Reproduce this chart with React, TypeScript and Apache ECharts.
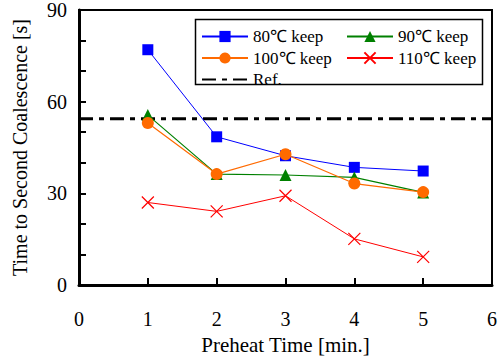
import React, { useEffect, useRef } from "react";
import * as echarts from "echarts";

const preheat = [1, 2, 3, 4, 5];
const keep80 = [77, 48.5, 42.3, 38.5, 37.3];
const keep90 = [55.6, 36.3, 36.0, 35.2, 30.3];
const keep100 = [53.0, 36.3, 42.8, 33.2, 30.4];
const keep110 = [27.0, 24.1, 29.2, 15.1, 9.2];
const refValue = 54.4;
const xRange = [0, 6];
const seriesNames = ["80℃ keep", "90℃ keep", "100℃ keep", "110℃ keep", "Ref."];

const FONT = "Liberation Serif";

export default function App() {
  const ref = useRef<HTMLDivElement>(null);
  useEffect(() => {
    if (!ref.current) return;
    const chart = echarts.init(ref.current, null, { renderer: "svg" });
    const pts = (v: number[]) => preheat.map((x, i) => [x, v[i]]);
    const crossPath = "path://M0,0L10,10M10,0L0,10";
    const legendText = { fontFamily: FONT, fontSize: 17, color: "#000" };
    const option: any = {
      animation: false,
      backgroundColor: "#fff",
      grid: {
        left: 79,
        right: 8,
        top: 8,
        bottom: 74,
        show: true,
        borderColor: "#000",
        borderWidth: 2,
        backgroundColor: "transparent",
      },
      xAxis: {
        type: "value",
        min: xRange[0],
        max: xRange[1],
        interval: 1,
        name: "Preheat Time [min.]",
        nameLocation: "middle",
        nameGap: 49,
        nameTextStyle: { fontFamily: FONT, fontSize: 21, color: "#000" },
        axisLine: { show: true, lineStyle: { color: "#000", width: 3 } },
        axisTick: { show: true, inside: true, length: 7, lineStyle: { color: "#000", width: 2 } },
        axisLabel: { fontFamily: FONT, fontSize: 20, color: "#000", margin: 24 },
        splitLine: { show: false },
      },
      yAxis: {
        type: "value",
        min: 0,
        max: 90,
        interval: 10,
        name: "Time to Second Coalescence [s]",
        nameLocation: "middle",
        nameGap: 49,
        nameTextStyle: { fontFamily: FONT, fontSize: 20, color: "#000" },
        axisLine: { show: true, lineStyle: { color: "#000", width: 3 } },
        axisTick: { show: true, inside: true, length: 7, lineStyle: { color: "#000", width: 2 } },
        axisLabel: {
          fontFamily: FONT,
          fontSize: 20,
          color: "#000",
          margin: 12,
          formatter: (v: number) => (v % 30 === 0 ? String(v) : ""),
        },
        splitLine: { show: false },
      },
      legend: [
        {
          data: [seriesNames[0], seriesNames[2], seriesNames[4]],
          orient: "vertical",
          left: 201,
          top: 28,
          itemWidth: 46,
          itemHeight: 14,
          itemGap: 4.5,
          padding: 0,
          textStyle: legendText,
        },
        {
          data: [seriesNames[1], seriesNames[3]],
          orient: "vertical",
          left: 346,
          top: 28,
          itemWidth: 46,
          itemHeight: 14,
          itemGap: 4.5,
          padding: 0,
          textStyle: legendText,
        },
      ],
      graphic: [
        {
          type: "rect",
          left: 193,
          top: 17,
          shape: { width: 287, height: 65 },
          style: { fill: "none", stroke: "#000", lineWidth: 1.5 },
          z: 1,
        },
      ],
      series: [
        {
          name: seriesNames[0],
          type: "line",
          data: pts(keep80),
          symbol: "rect",
          symbolSize: 11,
          lineStyle: { color: "#0000ff", width: 1 },
          itemStyle: { color: "#0000ff" },
        },
        {
          name: seriesNames[1],
          type: "line",
          data: pts(keep90),
          symbol: "triangle",
          symbolSize: 12,
          lineStyle: { color: "#008000", width: 1.2 },
          itemStyle: { color: "#008000" },
        },
        {
          name: seriesNames[2],
          type: "line",
          data: pts(keep100),
          symbol: "circle",
          symbolSize: 12,
          lineStyle: { color: "#ff6a00", width: 1.2 },
          itemStyle: { color: "#ff6a00" },
        },
        {
          name: seriesNames[3],
          type: "line",
          data: pts(keep110),
          symbol: crossPath,
          symbolSize: 12,
          lineStyle: { color: "#ff0000", width: 1 },
          itemStyle: { color: "#ff0000", borderColor: "#ff0000", borderWidth: 1.2 },
        },
        {
          name: seriesNames[4],
          type: "line",
          data: [
            [xRange[0], refValue],
            [xRange[1], refValue],
          ],
          symbol: "circle",
          symbolSize: 0,
          showSymbol: false,
          lineStyle: { color: "#000", width: 3, type: [14, 6, 5, 6] },
          itemStyle: { color: "rgba(0,0,0,0)" },
          z: 1,
        },
      ],
    };
    chart.setOption(option);
    return () => chart.dispose();
  }, []);
  return (
    <div
      ref={ref}
      style={{ position: "fixed", left: 0, top: 0, width: 500, height: 360 }}
    />
  );
}
